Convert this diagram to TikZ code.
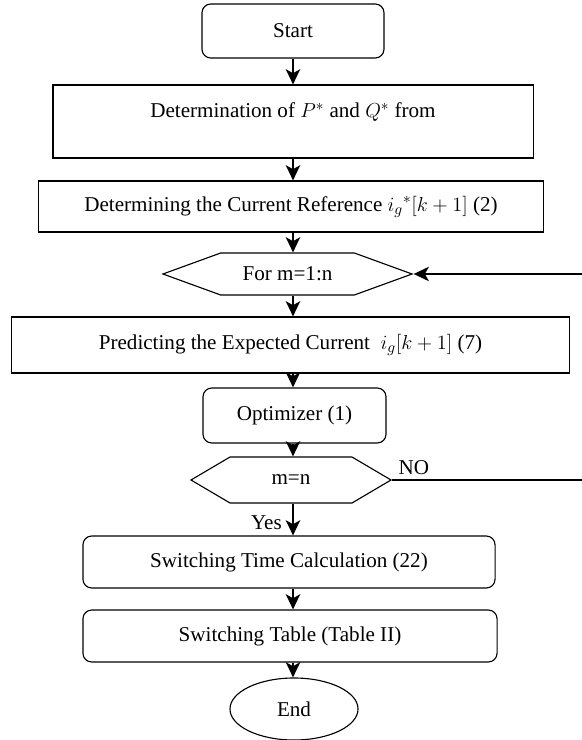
\documentclass[tikz,border=0pt]{standalone}
\usepackage{fontspec}
\setmainfont{Liberation Serif}
\usetikzlibrary{positioning,arrows.meta,shapes.geometric,shapes.symbols}

\begin{document}
\begin{tikzpicture}[x=0.025cm,y=-0.025cm,font=\fontsize{15}{18}\selectfont]
 \tikzset{box/.style={draw,line width=0.8pt,inner sep=2pt},
  rbox/.style={box,rounded corners=0.22cm},
  hexa/.style={box,signal,signal to=west and east},
  arrow/.style={line width=1.3pt,-{Stealth[length=0.38cm,width=0.36cm,inset=0.1cm]}}}
 \useasboundingbox (0,0) rectangle (581,740);

 \node[rbox,minimum width=4.55cm,minimum height=1.35cm] (St) at (293,31) {Start};
 \node[box,minimum width=12cm,minimum height=1.825cm,align=center] (PQ) at (293,121.5)
  {Determination of $P^*$ and $Q^*$ from\\[-7pt] \strut};
 \node[box,minimum width=12.6cm,minimum height=1.275cm] (Ref) at (291,206.5)
  {Determining the Current Reference $i_g{}^*[k+1]$ (2)};
 \node[hexa,signal pointer angle=40,minimum width=6.225cm,minimum height=1.05cm] (For) at (287.5,274) {For m=1:n};
 \node[box,minimum width=13.925cm,minimum height=1.4cm] (Pred) at (290.5,345)
  {Predicting the Expected Current\ \ $i_g[k+1]$ (7)};
 \node[rbox,minimum width=4.575cm,minimum height=1.375cm] (Opt) at (294.5,415.5) {Optimizer (1)};
 \node[hexa,signal pointer angle=61,minimum width=5cm,minimum height=1.15cm] (Chk) at (291,480) {m=n};
 \node[rbox,minimum width=10.3cm,minimum height=1.3cm] (Time) at (289,562) {Switching Time Calculation (22)};
 \node[rbox,minimum width=10.35cm,minimum height=1.3cm] (Tab) at (290,636) {Switching Table (Table II)};
 \node[box,ellipse,minimum width=3.2cm,minimum height=1.55cm] (End) at (294,709) {End};
 \coordinate (back) at (610,0);

 \draw[arrow] (St.south) -- (PQ.north -| St);
 \draw[arrow] (PQ.south -| St) -- (Ref.north -| St);
 \draw[arrow] (Ref.south -| St) -- (For.north -| St);
 \draw[arrow] (For.south -| St) -- (Pred.north -| St);
 \draw[arrow] (Pred.south -| St) -- (Opt.north -| St);
 \draw[arrow] (Opt.south -| St) -- (Chk.north -| St);
 \draw[arrow] (Chk.south -| St) -- node[left=4pt,pos=0.6] {Yes} (Time.north -| St);
 \draw[arrow] (Time.south -| St) -- (Tab.north -| St);
 \draw[arrow] (Tab.south -| St) -- (End.north -| St);
 \draw[arrow] (Chk.east) -- node[above,pos=0.1] {NO} (Chk.east -| back)
  -- (For.east -| back) -- (For.east);
\end{tikzpicture}
\end{document}
